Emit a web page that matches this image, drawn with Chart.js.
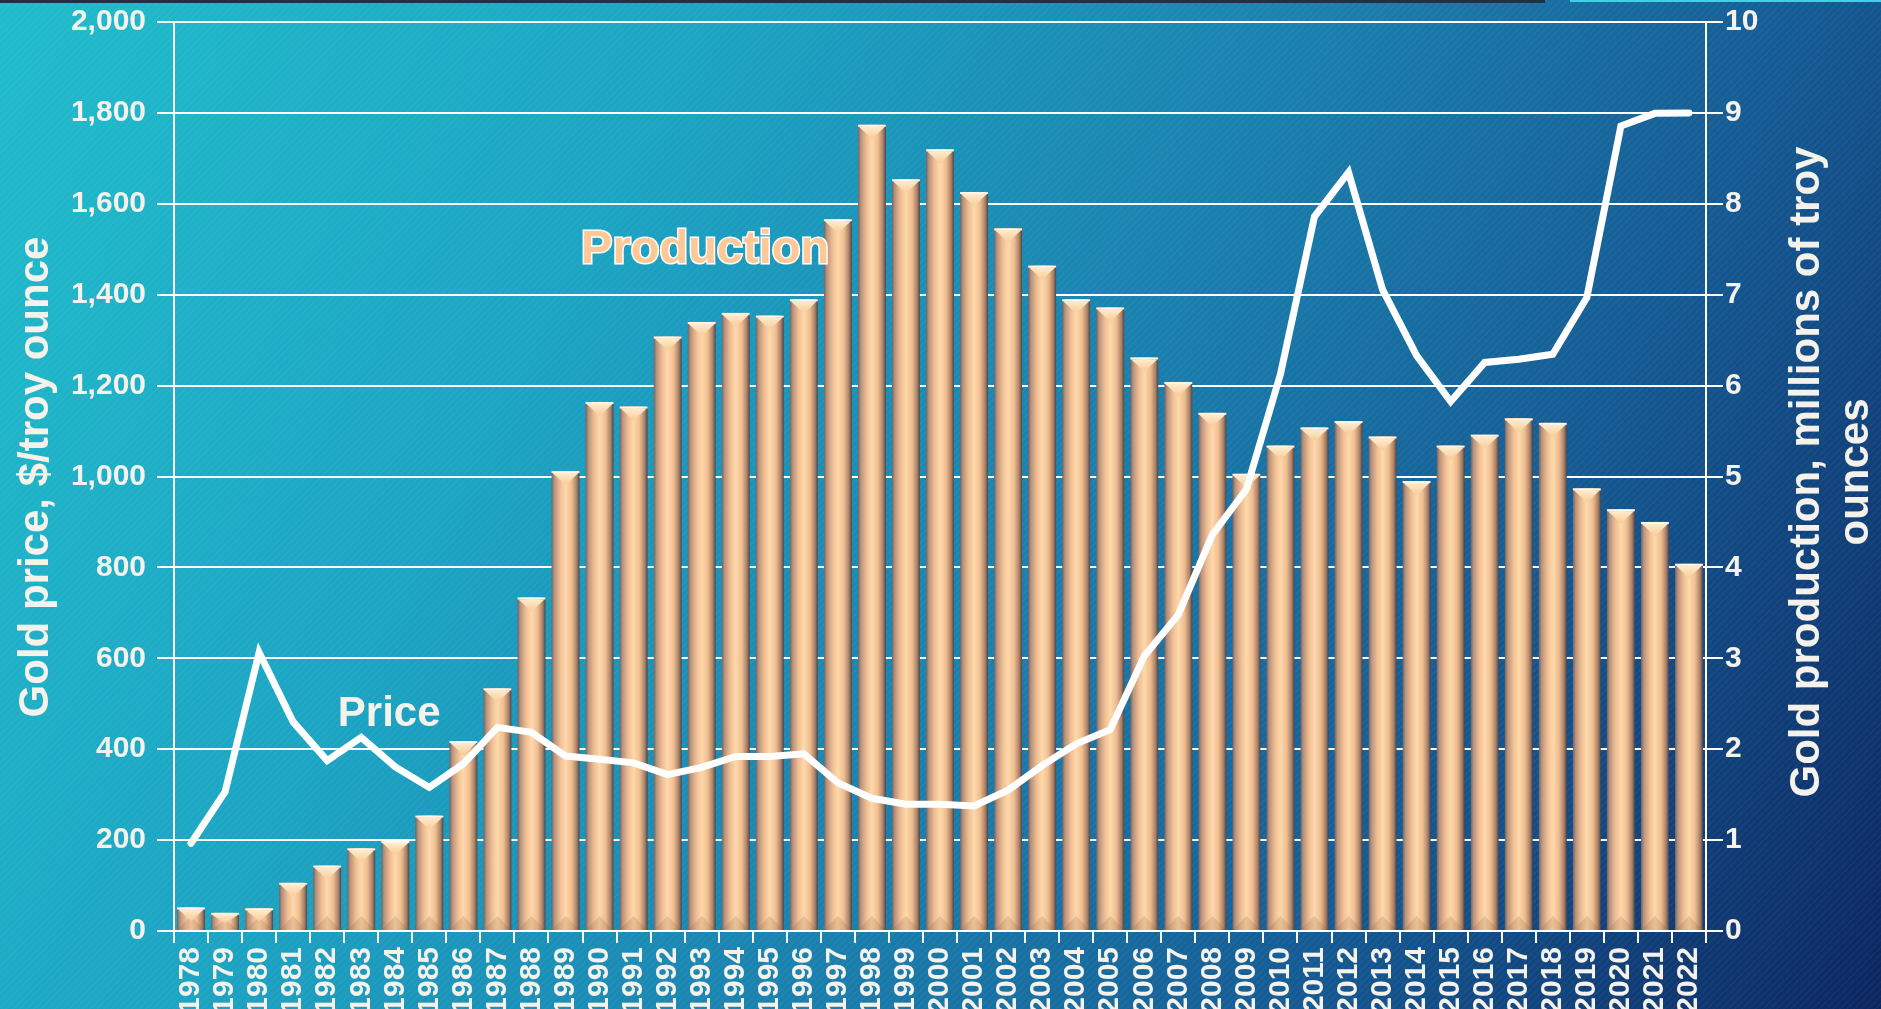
<!DOCTYPE html>
<html>
<head>
<meta charset="utf-8">
<script src="https://cdn.jsdelivr.net/npm/chart.js@4"></script>
<style>
  html, body { margin: 0; padding: 0; background: #1a8fb8; }
  #wrap { width: 1881px; height: 1009px; position: relative; }
</style>
</head>
<body>
<div id="wrap"><canvas id="goldChart"></canvas></div>
<script>
// categorias y series
const years = ["1978","1979","1980","1981","1982","1983","1984","1985","1986","1987",
  "1988","1989","1990","1991","1992","1993","1994","1995","1996","1997",
  "1998","1999","2000","2001","2002","2003","2004","2005","2006","2007",
  "2008","2009","2010","2011","2012","2013","2014","2015","2016","2017",
  "2018","2019","2020","2021","2022"];

// produccion, millones de onzas troy (eje derecho)
const production = [0.26, 0.20, 0.25, 0.53, 0.72, 0.91, 0.99, 1.27, 2.09, 2.67,
  3.67, 5.06, 5.82, 5.77, 6.54, 6.70, 6.80, 6.77, 6.95, 7.83,
  8.87, 8.27, 8.60, 8.13, 7.73, 7.32, 6.95, 6.86, 6.31, 6.04,
  5.70, 5.03, 5.34, 5.54, 5.61, 5.44, 4.95, 5.34, 5.46, 5.64,
  5.59, 4.87, 4.64, 4.50, 4.04];

// precio del oro, $/onza troy (eje izquierdo)
const price = [193, 306, 613, 460, 375, 426, 361, 316, 368, 448,
  437, 385, 378, 370, 344, 360, 384, 384, 390, 326,
  292, 279, 279, 275, 310, 364, 412, 443, 605, 696,
  872, 972, 1225, 1572, 1669, 1411, 1266, 1165, 1251, 1258,
  1269, 1394, 1771, 1799, 1800];

const priceTicks = [0, 2000, 200];
const prodTicks = [0, 10, 1];

const leftTitle = "Gold price, $/troy ounce";
const rightTitle = ["Gold production, millions of troy", "ounces"];

const FONT = "'Liberation Sans', Arial, sans-serif";
const TEXT = "#f4f2ea";
const BAR_PCT = 0.82;

// relleno de barras con degradado horizontal
function barFill(ctx) {
  const chart = ctx.chart;
  const xs = chart.scales.x;
  if (!xs || ctx.type !== "data" || !xs.width) return "#f2c296";
  const cx = xs.getPixelForValue(ctx.dataIndex);
  const hw = xs.width / years.length * BAR_PCT / 2;
  const g = chart.ctx.createLinearGradient(cx - hw, 0, cx + hw, 0);
  g.addColorStop(0, "#6f6466");
  g.addColorStop(0.1, "#b7927c");
  g.addColorStop(0.3, "#eebd92");
  g.addColorStop(0.5, "#ffd9ab");
  g.addColorStop(0.72, "#efbd8f");
  g.addColorStop(0.9, "#a98168");
  g.addColorStop(1, "#4f4344");
  return g;
}

// quitar el relleno extra que Chart.js deja para las etiquetas
function noPad(s) {
  s.paddingTop = 0;
  s.paddingBottom = 0;
}

// fondo, biseles, titulos y rotulos
const decor = {
  id: "decor",
  beforeDraw(chart) {
    const { ctx, width, height } = chart;
    ctx.save();
    const g = ctx.createLinearGradient(0, 0, width, height);
    g.addColorStop(0, "#20bccb");
    g.addColorStop(0.3, "#1ca4c3");
    g.addColorStop(0.55, "#1a80ae");
    g.addColorStop(0.75, "#155b94");
    g.addColorStop(1, "#0c2660");
    ctx.fillStyle = g;
    ctx.fillRect(0, 0, width, height);
    // textura de rayas diagonales
    const p = document.createElement("canvas");
    p.width = 7; p.height = 7;
    const pc = p.getContext("2d");
    pc.strokeStyle = "rgba(255,255,255,0.045)";
    pc.lineWidth = 1.5;
    pc.beginPath(); pc.moveTo(0, 7); pc.lineTo(7, 0); pc.stroke();
    ctx.fillStyle = ctx.createPattern(p, "repeat");
    ctx.fillRect(0, 0, width, height);
    // franja superior
    ctx.fillStyle = "#1d3440";
    ctx.fillRect(0, 0, 1545, 3);
    ctx.fillStyle = "#3fd2e6";
    ctx.fillRect(1570, 0, width - 1570, 2);
    ctx.restore();
  },
  afterDatasetDraw(chart, args) {
    if (args.index !== 0) return;
    const { ctx } = chart;
    ctx.save();
    args.meta.data.forEach((bar) => {
      const w = bar.width, l = bar.x - w / 2, r = bar.x + w / 2;
      const top = bar.y, base = bar.base;
      const h = base - top;
      const th = Math.min(w * 0.5, h * 0.6);
      // faceta inferior
      ctx.fillStyle = "rgba(130,90,60,0.18)";
      ctx.beginPath();
      ctx.moveTo(l, base); ctx.lineTo(r, base); ctx.lineTo(bar.x, base - th); ctx.closePath();
      ctx.fill();
      // faceta superior clara
      const tg = ctx.createLinearGradient(0, top, 0, top + th);
      tg.addColorStop(0, "#fff1d6");
      tg.addColorStop(1, "#f7cc98");
      ctx.fillStyle = tg;
      ctx.beginPath();
      ctx.moveTo(l + 1, top + 2); ctx.lineTo(r - 1, top + 2); ctx.lineTo(bar.x, top + th); ctx.closePath();
      ctx.fill();
      ctx.fillStyle = "#fff6e8";
      ctx.fillRect(l, top, w, 2);
    });
    ctx.restore();
  },
  afterDraw(chart) {
    const { ctx } = chart;
    const xs = chart.scales.x, ys = chart.scales.y;
    ctx.save();
    ctx.fillStyle = TEXT;
    ctx.textAlign = "center";
    ctx.textBaseline = "middle";
    ctx.font = "bold 42px " + FONT;
    // titulo eje izquierdo
    ctx.save();
    ctx.translate(36, 477);
    ctx.rotate(-Math.PI / 2);
    ctx.fillText(leftTitle, 0, 0);
    ctx.restore();
    // titulo eje derecho (dos lineas)
    ctx.save();
    ctx.translate(1807, 472);
    ctx.rotate(-Math.PI / 2);
    rightTitle.forEach((t, i) => ctx.fillText(t, 0, i * 49));
    ctx.restore();
    // rotulos de series
    ctx.font = "bold 42px " + FONT;
    ctx.fillText("Price", xs.getPixelForValue(5.82), ys.getPixelForValue(477));
    ctx.font = "bold 47px " + FONT;
    const px = xs.getPixelForValue(15.1), py = ys.getPixelForValue(1498);
    ctx.lineWidth = 3;
    ctx.strokeStyle = "#ffffff";
    ctx.strokeText("Production", px, py);
    ctx.fillStyle = "#ffc997";
    ctx.fillText("Production", px, py);
    ctx.restore();
  }
};

const ctx = document.getElementById("goldChart").getContext("2d");
new Chart(ctx, {
  data: {
    labels: years,
    datasets: [
      {
        type: "bar",
        label: "Production",
        data: production,
        yAxisID: "y1",
        backgroundColor: barFill,
        borderWidth: 0,
        categoryPercentage: BAR_PCT,
        barPercentage: 1,
        order: 2,
      },
      {
        type: "line",
        label: "Price",
        data: price,
        yAxisID: "y",
        borderColor: "#ffffff",
        borderWidth: 7,
        borderCapStyle: "round",
        pointRadius: 0,
        tension: 0,
        fill: false,
        order: 1,
      },
    ],
  },
  options: {
    responsive: true,
    maintainAspectRatio: false,
    animation: false,
    devicePixelRatio: 1,
    layout: { padding: { top: 22, left: 0, right: 0, bottom: 0 } },
    plugins: {
      legend: { display: false },
      tooltip: { enabled: false },
    },
    scales: {
      x: {
        offset: true,
        afterFit: (s) => { s.height = 78; },
        grid: { display: true, drawOnChartArea: false, drawTicks: true, tickLength: 12, color: "#ffffff", lineWidth: 2, offset: true },
        border: { display: true, color: "#ffffff", width: 2 },
        ticks: {
          color: TEXT,
          font: { family: FONT, size: 30, weight: "bold" },
          minRotation: 90, maxRotation: 90, autoSkip: false, padding: 4,
        },
      },
      y: {
        position: "left",
        min: priceTicks[0], max: priceTicks[1],
        afterFit: (s) => { s.width = 174; noPad(s); },
        grid: { color: "#ffffff", lineWidth: 2, tickLength: 17 },
        border: { display: true, color: "#ffffff", width: 2 },
        ticks: {
          stepSize: priceTicks[2],
          color: TEXT,
          padding: 11,
          font: { family: FONT, size: 30, weight: "bold" },
          callback: (v) => v.toLocaleString("en-US"),
        },
      },
      y1: {
        position: "right",
        min: prodTicks[0], max: prodTicks[1],
        afterFit: (s) => { s.width = 175; noPad(s); },
        grid: { drawOnChartArea: false, color: "#ffffff", lineWidth: 2, tickLength: 17 },
        border: { display: true, color: "#ffffff", width: 2 },
        ticks: {
          stepSize: prodTicks[2],
          color: TEXT,
          padding: 2,
          font: { family: FONT, size: 30, weight: "bold" },
        },
      },
    },
  },
  plugins: [decor],
});
</script>
</body>
</html>
